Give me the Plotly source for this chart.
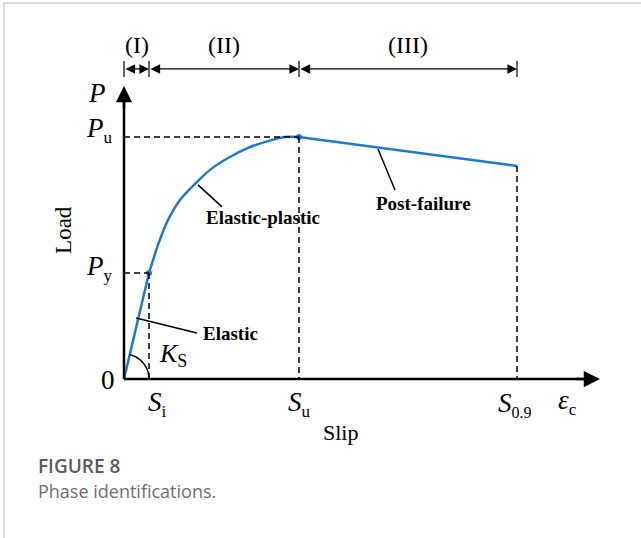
import numpy as np
import plotly.graph_objects as go

# Load-slip curve (slip in arbitrary units, load normalised by Pu)
elastic_slip = [0.0, 1.0]
elastic_load = [0.0, 0.438]
ep_slip = [1.0, 1.36, 1.76, 2.24, 2.84, 3.44, 4.16, 4.96, 5.76, 6.44, 7.0]
ep_load = [0.438, 0.554, 0.657, 0.740, 0.806, 0.864, 0.913, 0.955, 0.983, 1.0, 1.0]
post_slip = [7.0, 15.72]
post_load = [1.0, 0.88]

# Characteristic points
S_i, P_y = 1.0, 0.438
S_u, P_u = 7.0, 1.0
S_09, P_09 = 15.72, 0.88

# Phase boundaries along the slip axis
phase_bounds = [0.0, S_i, S_u, S_09]
phase_labels = ["(I)", "(II)", "(III)"]

BLUE = "#1f77d4"
SERIF = "Liberation Serif"
PX_X, PX_Y = 25.0, 242.0  # pixels per data unit
XR = [-4.96, 20.68]
YR = [-0.657, 1.566]

fig = go.Figure()

fig.add_trace(go.Scatter(x=elastic_slip, y=elastic_load, mode="lines",
                         line=dict(color=BLUE, width=2.5), hoverinfo="skip"))
fig.add_trace(go.Scatter(x=ep_slip, y=ep_load, mode="lines",
                         line=dict(color=BLUE, width=2.5, shape="spline", smoothing=0.6),
                         hoverinfo="skip"))
fig.add_trace(go.Scatter(x=post_slip, y=post_load, mode="lines",
                         line=dict(color=BLUE, width=2.5), hoverinfo="skip"))
fig.add_trace(go.Scatter(x=[S_i, S_u], y=[P_y, P_u], mode="markers",
                         marker=dict(color=BLUE, size=6), hoverinfo="skip"))

shapes = []
dash = "6px,4px"
dl = dict(color="black", width=1.5, dash=dash)
# guide lines to the characteristic points
shapes.append(dict(type="line", x0=0, y0=P_y, x1=S_i, y1=P_y, line=dl))
shapes.append(dict(type="line", x0=S_i, y0=P_y, x1=S_i, y1=0, line=dl))
shapes.append(dict(type="line", x0=0, y0=P_u, x1=S_u, y1=P_u, line=dl))
shapes.append(dict(type="line", x0=S_u, y0=P_u, x1=S_u, y1=0, line=dl))
shapes.append(dict(type="line", x0=S_09, y0=P_09, x1=S_09, y1=0, line=dl))

# axes
y_top = 1.211
x_end = 19.04
shapes.append(dict(type="line", x0=0, y0=0, x1=0, y1=y_top - 0.03, line=dict(color="black", width=2.5)))
shapes.append(dict(type="line", x0=0, y0=0, x1=x_end - 0.3, y1=0, line=dict(color="black", width=2.5)))

# phase bracket ticks
yb = 1.281
for b in phase_bounds:
    shapes.append(dict(type="line", x0=b, x1=b, y0=yb - 0.033, y1=yb + 0.033,
                       line=dict(color="black", width=1.2)))

# stiffness arc at the origin
theta_end = np.arctan2(P_y * PX_Y, S_i * PX_X)
th = np.linspace(0.0, theta_end, 30)
r = 25.0
ax_ = r * np.cos(th) / PX_X
ay_ = r * np.sin(th) / PX_Y
path = "M " + " L ".join(f"{a:.4f},{b:.4f}" for a, b in zip(ax_, ay_))
shapes.append(dict(type="path", path=path, line=dict(color="black", width=1.5)))

# leader lines to the phase names
for (x0, y0, x1, y1) in [(0.48, 0.252, 2.92, 0.190),
                         (2.96, 0.802, 3.92, 0.711),
                         (10.16, 0.950, 10.84, 0.781)]:
    shapes.append(dict(type="line", x0=x0, y0=y0, x1=x1, y1=y1,
                       line=dict(color="black", width=1.5)))

# frame of the figure panel
shapes.append(dict(type="path", xref="paper", yref="paper",
                   path="M 0.0062,0 L 0.0062,0.9944 L 1,0.9944",
                   line=dict(color="#d4d4d4", width=1.5)))

annotations = []
# axis arrowheads
annotations.append(dict(x=0, y=y_top, ax=0, ay=y_top - 0.1, xref="x", yref="y",
                        axref="x", ayref="y", text="", showarrow=True,
                        arrowhead=2, arrowsize=1.3, arrowwidth=2.5, arrowcolor="black"))
annotations.append(dict(x=x_end, y=0, ax=x_end - 1.0, ay=0, xref="x", yref="y",
                        axref="x", ayref="y", text="", showarrow=True,
                        arrowhead=2, arrowsize=1.3, arrowwidth=2.5, arrowcolor="black"))
# phase double arrows
for i, lab in enumerate(phase_labels):
    a, b = phase_bounds[i], phase_bounds[i + 1]
    annotations.append(dict(x=b, y=yb, ax=a, ay=yb, xref="x", yref="y",
                            axref="x", ayref="y", text="", showarrow=True,
                            arrowhead=2, arrowside="end+start", arrowsize=1.6,
                            arrowwidth=1.2, arrowcolor="black", standoff=0, startstandoff=0))
    annotations.append(dict(x=(a + b) / 2, y=1.38, xref="x", yref="y", text=lab,
                            showarrow=False, font=dict(family=SERIF, size=24, color="black")))


def txt(x, y, s, size, **kw):
    annotations.append(dict(x=x, y=y, xref="x", yref="y", text=s, showarrow=False,
                            font=dict(family=SERIF, size=size, color="black"), **kw))


def sub(s, size=17):
    return f"<sub><span style='font-size:{size}px'>{s}</span></sub>"


txt(-1.08, 1.18, "<i>P</i>", 27)
txt(-1.0, 1.03, "<i>P</i>" + sub("u"), 27)
txt(-1.0, 0.46, "<i>P</i>" + sub("y"), 27)
txt(-0.64, -0.005, "0", 27)
txt(-2.4, 0.616, "Load", 23, textangle=-90)
txt(S_i + 0.35, -0.105, "<i>S</i>" + sub("i"), 27)
txt(S_u, -0.105, "<i>S</i>" + sub("u"), 27)
txt(S_09 - 0.1, -0.105, "<i>S</i>" + sub("0.9", 16), 27)
txt(17.75, -0.095, "<i>ε</i>" + sub("c"), 27)
txt(8.64, -0.219, "Slip", 22)
txt(1.95, 0.10, "<i>K</i>" + sub("S", 18), 26)
txt(4.24, 0.186, "<b>Elastic</b>", 19)
txt(5.54, 0.669, "<b>Elastic-plastic</b>", 19)
txt(11.96, 0.727, "<b>Post-failure</b>", 19)

# caption
annotations.append(dict(x=36 / 641, y=1 - 466 / 538, xref="paper", yref="paper",
                        xanchor="left", yanchor="middle", showarrow=False,
                        text="FIGURE 8", font=dict(family="Open Sans", size=19, color="#5a5a5a",
                                                    weight=600)))
annotations.append(dict(x=36 / 641, y=1 - 491 / 538, xref="paper", yref="paper",
                        xanchor="left", yanchor="middle", showarrow=False,
                        text="Phase identifications.",
                        font=dict(family="Open Sans", size=18, color="#6e6e6e")))

fig.update_layout(
    width=641, height=538,
    margin=dict(l=0, r=0, t=0, b=0),
    paper_bgcolor="white", plot_bgcolor="white",
    showlegend=False,
    xaxis=dict(range=XR, visible=False, fixedrange=True),
    yaxis=dict(range=YR, visible=False, fixedrange=True),
    shapes=shapes, annotations=annotations,
)

fig.write_html("out.html")
